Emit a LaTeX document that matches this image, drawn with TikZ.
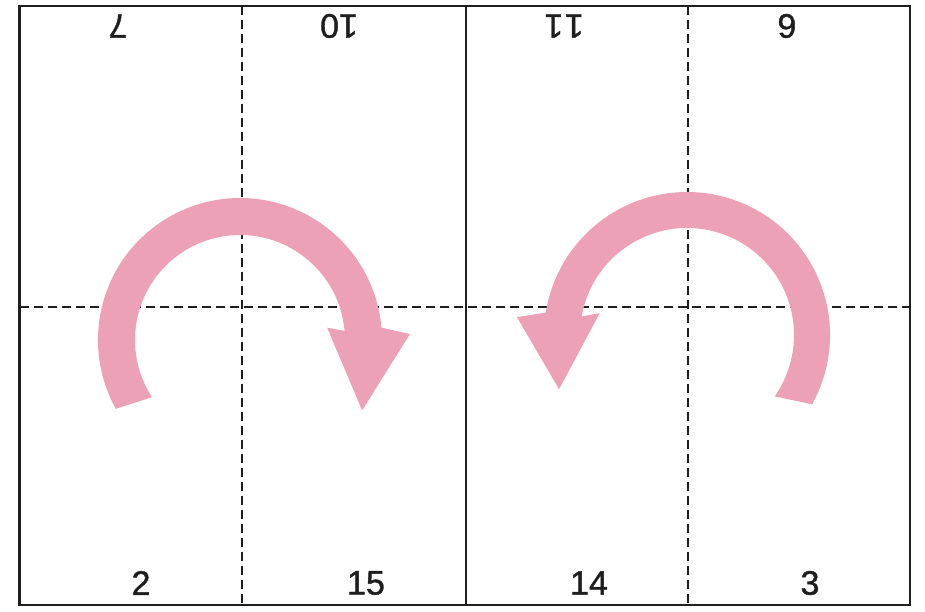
\documentclass[tikz,border=0pt]{standalone}
\usepackage{fontspec}
\setmainfont{Liberation Sans}
\newfontfamily\numfont{Liberation Sans}[FakeBold=1.2]
\definecolor{arrowpink}{RGB}{237,161,183}
\definecolor{ink}{RGB}{30,30,30}
\begin{document}
\begin{tikzpicture}[x=1pt,y=1pt,
  frame/.style={line width=2.2pt, draw=ink},
  fold/.style={line width=1.8pt, draw=ink, dash pattern=on 9pt off 5pt},
  num/.style={font=\numfont\fontsize{34}{34}\selectfont, inner sep=0pt, text=ink},
  numtop/.style={num, rotate=180},
  turn/.style={fill=arrowpink}]
\useasboundingbox (0,0) rectangle (925,612);
% frame corners and fold ends
\coordinate (tl) at (19.5,606);
\coordinate (br) at (910,7);
\coordinate (mt) at (466,606);
\coordinate (mb) at (466,7);
\coordinate (lt) at (242,606);
\coordinate (lb) at (242,7);
\coordinate (rt) at (688,606);
\coordinate (rb) at (688,7);
\coordinate (hl) at (19.5,305);
\coordinate (hr) at (910,305);
% fold lines
\draw[fold] (lt) -- (lb);
\draw[fold] (rt) -- (rb);
\draw[fold] (hl) -- (hr);
% page cut and frame
\draw[frame] (mt) -- (mb);
\draw[frame] (tl) rectangle (br);
% turning arrows
\fill[turn, shift={(240,272)}] (209:142pt) arc[start angle=209, end angle=5, radius=142pt]
  -- (2:170pt) -- (-30:141pt) -- (8:88pt) -- (5:105pt)
  arc[start angle=5, end angle=213, radius=105pt] -- cycle;
\fill[turn, shift={(687,277)}] (-29:143pt) arc[start angle=-29, end angle=171, radius=143pt]
  -- (174:171pt) -- (203:139pt) -- (166:90pt) -- (170:107pt)
  arc[start angle=170, end angle=-35, radius=107pt] -- cycle;
% page numbers
\node[numtop] (n7)  at (118,586) {7};
\node[numtop] (n10) at (339,586) {10};
\node[numtop] (n11) at (564,586) {1\kern1.5pt1};
\node[numtop] (n6)  at (787,586) {6};
\node[num] (n2)  at (141,29) {2};
\node[num] (n15) at (366,29) {15};
\node[num] (n14) at (589,29) {14};
\node[num] (n3)  at (810,29) {3};
\end{tikzpicture}
\end{document}
